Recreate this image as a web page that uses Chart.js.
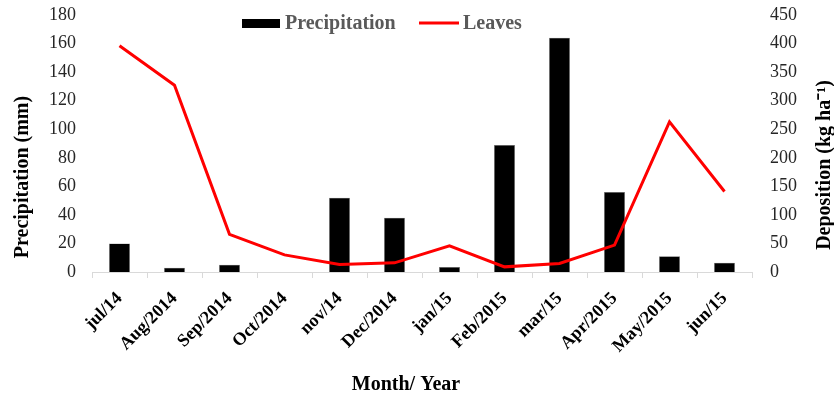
<!DOCTYPE html>
<html>
<head>
<meta charset="utf-8">
<script src="https://cdn.jsdelivr.net/npm/chart.js@4"></script>
<style>
  html, body { margin: 0; padding: 0; background: #fff; }
  #wrap { width: 834px; height: 398px; position: relative; }
</style>
</head>
<body>
<div id="wrap"><canvas id="chuvaChart"></canvas></div>
<script>
// Daten
const months = ['jul/14', 'Aug/2014', 'Sep/2014', 'Oct/2014', 'nov/14', 'Dec/2014',
                'jan/15', 'Feb/2015', 'mar/15', 'Apr/2015', 'May/2015', 'jun/15'];
const precipitation = [20, 3, 5, 0, 52, 38, 3.5, 89, 164, 56, 11, 6.5]; // mm
const leaves = [396, 327, 66, 30, 13, 16, 46, 9, 15, 47, 263, 141];     // kg ha-1

const serif = '"Liberation Serif", "Times New Roman", serif';

// Legende + Achsentitel selbst zeichnen (liegen im Original frei im Bild)
const freeText = {
  id: 'freeText',
  afterDraw(chart) {
    const ctx = chart.ctx;
    const ds = chart.data.datasets;
    ctx.save();
    ctx.textBaseline = 'middle';
    ctx.textAlign = 'left';
    ctx.font = 'bold 20px ' + serif;

    // Legende
    ctx.fillStyle = ds[0].backgroundColor;
    ctx.fillRect(242, 19, 38, 9);
    ctx.fillStyle = '#595959';
    ctx.fillText(ds[0].label, 285, 24);

    ctx.strokeStyle = ds[1].borderColor;
    ctx.lineWidth = 3;
    ctx.beginPath();
    ctx.moveTo(419, 23);
    ctx.lineTo(459, 23);
    ctx.stroke();
    ctx.fillStyle = '#595959';
    ctx.fillText(ds[1].label, 463, 24);

    // Achsentitel
    ctx.fillStyle = '#000';
    ctx.font = 'bold 20px ' + serif;
    ctx.textAlign = 'center';
    ctx.fillText('Month/ Year', 406, 385);

    ctx.save();
    ctx.translate(23, 177);
    ctx.rotate(-Math.PI / 2);
    ctx.fillText('Precipitation (mm)', 0, 0);
    ctx.restore();

    ctx.save();
    ctx.translate(825, 165);
    ctx.rotate(-Math.PI / 2);
    ctx.fillText('Deposition (kg ha\u207B\u00B9)', 0, 0);
    ctx.restore();

    ctx.restore();
  }
};

const config = {
  type: 'bar',
  data: {
    labels: months,
    datasets: [
      {
        type: 'bar',
        label: 'Precipitation',
        data: precipitation,
        backgroundColor: '#000000',
        borderColor: '#7f7f7f',
        borderWidth: 0.5,
        barPercentage: 0.38,
        categoryPercentage: 1,
        yAxisID: 'y',
        order: 2
      },
      {
        type: 'line',
        label: 'Leaves',
        data: leaves,
        borderColor: '#ff0000',
        borderWidth: 3,
        pointRadius: 0,
        tension: 0,
        fill: false,
        yAxisID: 'y1',
        order: 1
      }
    ]
  },
  options: {
    responsive: true,
    maintainAspectRatio: false,
    animation: false,
    layout: { padding: { top: 15, left: 0, right: 0, bottom: 0 } },
    plugins: {
      legend: { display: false },
      tooltip: { enabled: false }
    },
    scales: {
      x: {
        offset: true,
        grid: {
          offset: true,
          drawOnChartArea: false,
          tickLength: 6,
          color: '#d9d9d9'
        },
        border: { color: '#d9d9d9' },
        ticks: {
          maxRotation: 45,
          minRotation: 45,
          padding: 10,
          color: '#000',
          font: { family: serif, size: 18, weight: 'bold' }
        },
        afterFit(scale) { scale.height = 126; }
      },
      y: {
        position: 'left',
        min: 0,
        max: 180,
        grid: { display: false, drawTicks: true, tickLength: 15 },
        border: { display: false },
        ticks: {
          stepSize: 20,
          padding: 1,
          color: '#262626',
          font: { family: serif, size: 18 }
        },
        afterFit(scale) { scale.width = 92; }
      },
      y1: {
        position: 'right',
        min: 0,
        max: 450,
        grid: { display: false, drawTicks: true, tickLength: 17 },
        border: { display: false },
        ticks: {
          stepSize: 50,
          padding: 1,
          color: '#262626',
          font: { family: serif, size: 18 }
        },
        afterFit(scale) { scale.width = 82; }
      }
    }
  },
  plugins: [freeText]
};

new Chart(document.getElementById('chuvaChart'), config);
</script>
</body>
</html>
